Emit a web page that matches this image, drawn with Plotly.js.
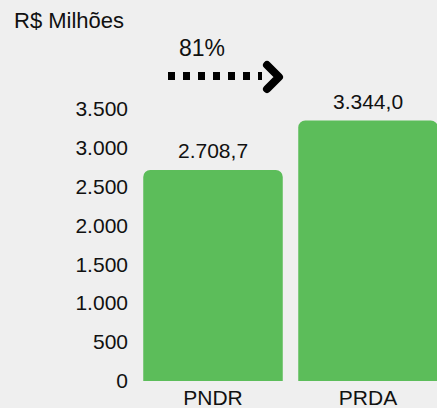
<!DOCTYPE html>
<html>
<head>
<meta charset="utf-8">
<script src="https://cdn.plot.ly/plotly-3.0.1.min.js"></script>
<style>html,body{margin:0;padding:0;background:#efefef;}#chart{width:437px;height:408px;}</style>
</head>
<body>
<div id="chart"></div>
<script>
const categories = ["PNDR", "PRDA"];
const values = [2708.7, 3344.0];
const valueLabels = ["2.708,7", "3.344,0"];
const tickVals = [0, 500, 1000, 1500, 2000, 2500, 3000, 3500];
const tickText = ["0", "500", "1.000", "1.500", "2.000", "2.500", "3.000", "3.500"];
const growthLabel = "81%";

const W = 437, H = 408;
const L = 130, R = 0, T = 85, B = 27;
const pw = W - L - R, ph = H - T - B;
const px = x => (x - L) / pw;
const py = y => (H - B - y) / ph;

const font = {family: "Arial, 'Liberation Sans', sans-serif", color: "#111111"};

const trace = {
  type: "bar",
  x: categories,
  y: values,
  marker: {color: "#5cbd5a", cornerradius: 7},
  hoverinfo: "skip"
};

const annotations = values.map((v, i) => ({
  x: categories[i], y: v, xref: "x", yref: "y",
  text: valueLabels[i], showarrow: false,
  yanchor: "bottom", yshift: 6,
  font: Object.assign({}, font, {size: 21})
}));
annotations.push({
  xref: "paper", yref: "paper", x: px(202), y: py(48),
  text: growthLabel, showarrow: false, xanchor: "center", yanchor: "middle",
  font: Object.assign({}, font, {size: 23})
});

const layout = {
  width: W, height: H,
  paper_bgcolor: "#efefef", plot_bgcolor: "#efefef",
  margin: {l: L, r: R, t: T, b: B, pad: 0},
  bargap: 0.1,
  showlegend: false,
  font: Object.assign({}, font, {size: 21}),
  title: {
    text: "R$ Milhões", xref: "container", yref: "container",
    x: 14 / W, xanchor: "left", y: 1 - 20 / H, yanchor: "middle",
    font: Object.assign({}, font, {size: 22})
  },
  xaxis: {
    type: "category", range: [-(213 - L) / 155, 1 + (W - 368) / 155],
    showgrid: false, zeroline: false, showline: false, ticks: "",
    ticklabelstandoff: 2,
    tickfont: Object.assign({}, font, {size: 21}), fixedrange: true
  },
  yaxis: {
    range: [0, 3800], tickvals: tickVals, ticktext: tickText,
    showgrid: false, zeroline: false, showline: false, ticks: "",
    ticklabelstandoff: 1,
    tickfont: Object.assign({}, font, {size: 21}), fixedrange: true
  },
  annotations: annotations,
  shapes: [
    {type: "line", xref: "paper", yref: "paper",
     x0: px(168), x1: px(262), y0: py(76), y1: py(76),
     line: {color: "#000000", width: 8, dash: "7px,8px"}},
    {type: "path", xref: "paper", yref: "paper",
     path: `M ${px(267)},${py(65)} L ${px(279)},${py(77)} L ${px(267)},${py(89)}`,
     line: {color: "#000000", width: 8}}
  ]
};

Plotly.newPlot("chart", [trace], layout, {displayModeBar: false, staticPlot: true}).then(() => {
  document.querySelectorAll(".shapelayer path").forEach((p, i) => {
    if (i === 1) { p.style.strokeLinecap = "round"; p.style.strokeLinejoin = "round"; }
  });
});
</script>
</body>
</html>
